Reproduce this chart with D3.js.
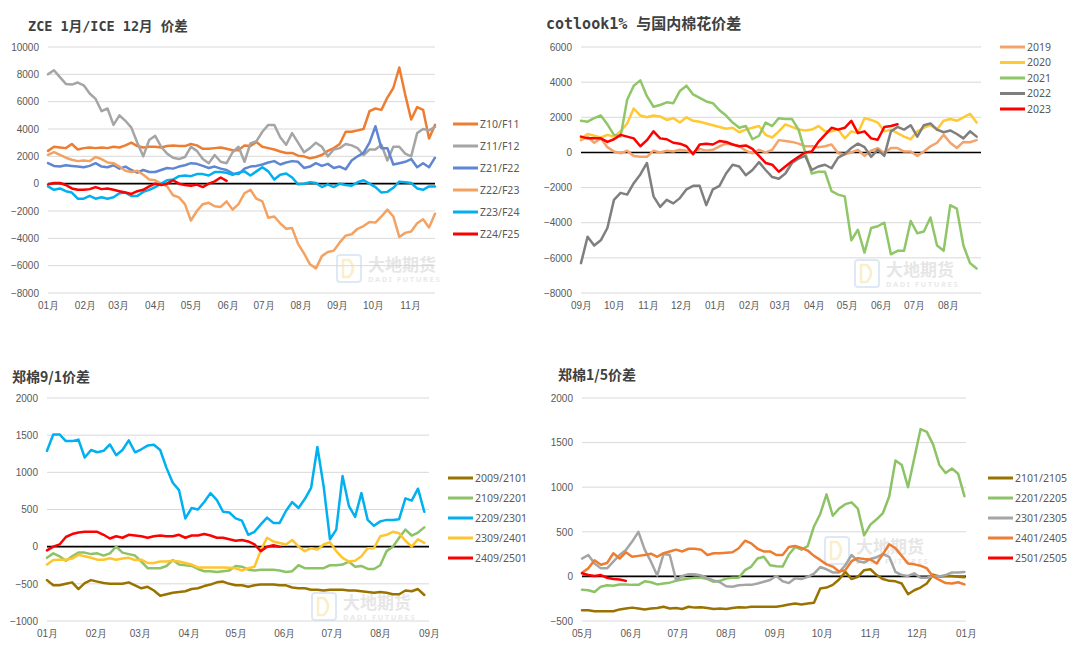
<!DOCTYPE html>
<html lang="zh">
<head>
<meta charset="UTF-8">
<title>棉花价差</title>
<script src="https://d3js.org/d3.v7.min.js"></script>
<style>
  body { margin: 0; background: #fff; }
  svg { display: block; font-family: "Noto Sans", "Noto Sans CJK SC", sans-serif; }
  .axis text { fill: #595959; font-size: 10px; }
  .axis path { display: none; }
  .grid { stroke: #d9d9d9; stroke-width: 1; }
  .zero { stroke: #000; stroke-width: 1.6; }
  .series { fill: none; stroke-width: 2.5; stroke-linejoin: round; stroke-linecap: round; }
  .legend text { fill: #595959; font-size: 10.5px; }
  .title { fill: #404040; font-weight: bold; }
</style>
</head>
<body>
<svg id="chart" width="1080" height="651"></svg>
<script>
// ---------- ZCE 1月/ICE 12月 价差 (every 5 days from 01-01) ----------
const zceNames = ["Z10/F11", "Z11/F12", "Z21/F22", "Z22/F23", "Z23/F24", "Z24/F25"];
const zceTicks = [-8000, -6000, -4000, -2000, 0, 2000, 4000, 6000, 8000, 10000];
const zceZ10F11 = [2400, 2700, 2650, 2600, 2900, 2500, 2600, 2650, 2600, 2650,
  2600, 2700, 2650, 2800, 3000, 2750, 2650, 2700, 2700, 2650,
  2750, 2800, 2750, 2750, 2900, 2800, 2550, 2550, 2600, 2650,
  2550, 2450, 2450, 2800, 2750, 3050, 2700, 2600, 2500, 2350,
  2250, 2250, 2050, 2000, 1850, 1950, 2100, 2400, 2600, 2900,
  3800, 3800, 3900, 4000, 5300, 5500, 5400, 6300, 7000, 8500,
  6500, 4700, 5600, 5400, 3300, 4300];
const zceZ11F12 = [8000, 8300, 7800, 7300, 7250, 7400, 7200, 6600, 6200, 5300,
  5500, 4300, 5000, 4600, 4100, 3000, 2000, 3200, 3500, 2700,
  2200, 1900, 1800, 1950, 2700, 2400, 1800, 1500, 2100, 1600,
  1500, 2300, 2700, 1600, 2950, 3100, 3800, 4300, 4300, 3400,
  2850, 3700, 3000, 2300, 2600, 3000, 2700, 2000, 2500, 2600,
  2900, 2800, 2600, 2100, 2500, 2500, 2850, 1700, 2700, 2700,
  2200, 2000, 3700, 4000, 3900, 4150];
const zceZ21F22 = [1500, 1300, 1250, 1350, 1300, 1250, 1200, 1300, 1500, 1250,
  1200, 1350, 1100, 1250, 1000, 800, 1000, 850, 850, 1000,
  1150, 1100, 1250, 1350, 1500, 1450, 1300, 1150, 1250, 1100,
  1000, 750, 700, 1100, 1250, 1300, 1400, 1550, 1650, 1400,
  1550, 1650, 1600, 1150, 1250, 1500, 1300, 1450, 1150, 1250,
  1050, 1700, 2000, 2250, 3000, 4200, 2600, 2600, 1400, 1500,
  1600, 1800, 1200, 1500, 1200, 1900];
const zceZ22F23 = [2100, 2300, 2100, 1900, 1750, 1650, 1700, 1650, 1950, 1800,
  1550, 1500, 1250, 950, 850, 950, 650, 300, 250, 0,
  -200, -850, -1000, -1500, -2700, -2000, -1500, -1400, -1650, -1700,
  -1300, -1900, -1500, -700, -450, -1100, -1300, -2500, -2400, -2900,
  -3300, -3250, -4400, -5100, -5900, -6200, -5300, -5000, -4900, -4300,
  -3800, -3700, -3300, -3100, -2800, -2850, -2400, -1900, -2400, -3900,
  -3600, -3500, -2900, -2600, -3200, -2200];
const zceZ23F24 = [-200, -450, -350, -550, -650, -1100, -1100, -900, -1100, -1000,
  -1100, -1000, -700, -650, -900, -900, -600, -450, -250, 0,
  250, 300, 550, 600, 550, 700, 700, 600, 850, 850,
  800, 650, 800, 900, 600, 900, 1200, 900, 300, 650,
  750, 450, -50, 0, 100, 50, -250, -50, -250, 0,
  -100, -150, 100, 250, 0, -250, -650, -600, -300, 150,
  100, 50, -350, -450, -200, -200];
const zceZ24F25 = [-50, 50, 50, -100, -350, -450, -450, -400, -250, -400,
  -350, -450, -550, -650, -750, -550, -450, -200, 0, -100,
  0, 250, 0, -100, -150, -70, -250, 0, 170, 450,
  200];

// ---------- cotlook1% 与国内棉花价差 (every 6 days from 09-01) ----------
const cotNames = ["2019", "2020", "2021", "2022", "2023"];
const cotTicks = [-8000, -6000, -4000, -2000, 0, 2000, 4000, 6000];
const cot2019 = [700, 900, 550, 800, 300, 50, -50, 100, -200, -250,
  -250, 100, 0, 100, 50, 150, 100, 0, 200, 100,
  150, 350, 500, 450, 350, 100, -50, 150, 0, 150,
  700, 650, 600, 500, 350, 350, 300, 350, 450, -50,
  -100, 0, 150, -200, 100, 250, -50, 250, 250, 50,
  50, -200, 50, 350, 550, 1000, 550, 250, 600, 580,
  700];
const cot2020 = [800, 1050, 950, 850, 1000, 900, 1200, 1650, 2500, 2100,
  2000, 2100, 2050, 1850, 1950, 1700, 2000, 1800, 1750, 1650,
  1550, 1450, 1350, 1400, 1150, 1300, 1400, 1500, 1000, 850,
  1200, 1600, 1450, 1300, 1250, 1300, 1500, 1200, 1200, 1300,
  800, 1200, 1100, 1950, 1850, 1700, 1200, 1300, 1100, 900,
  750, 1200, 1400, 1550, 1300, 1800, 1900, 1800, 2000, 2200,
  1700];
const cot2021 = [1800, 1750, 1950, 2100, 1600, 1000, 900, 3000, 3800, 4100,
  3200, 2600, 2700, 2850, 2800, 3500, 3800, 3300, 3100, 2900,
  2800, 2400, 2100, 1700, 1400, 1500, 750, 950, 1700, 1500,
  1950, 1900, 1900, 1300, 0, -1200, -1100, -1100, -2200, -2400,
  -2500, -5000, -4400, -5700, -4300, -4200, -4000, -5800, -5600, -5600,
  -3900, -4600, -4500, -3700, -5300, -5600, -3000, -3200, -5300, -6300,
  -6600];
const cot2022 = [-6300, -4800, -5300, -5000, -4300, -2700, -2300, -2400, -1750, -1250,
  -600, -2500, -3100, -2700, -2900, -2600, -2100, -1900, -1900, -3000,
  -2100, -1900, -1200, -700, -800, -1300, -1000, -550, -1000, -1400,
  -1500, -1200, -600, -350, -200, -1000, -800, -700, -900, -300,
  -100, 250, 500, 300, -250, 150, -200, 1200, 1450, 1300,
  1550, 900, 1550, 1650, 1300, 1150, 1250, 1050, 800, 1200,
  900];
const cot2023 = [900, 800, 800, 800, 600, 750, 1000, 900, 800, 350,
  700, 1200, 800, 750, 550, 500, 350, -100, 450, 500,
  450, 650, 600, 450, 350, 400, 200, -200, -600, -700,
  -1100, -800, -500, -250, 0, 50, 600, 1000, 1400, 1300,
  1400, 1800, 1100, 1200, 800, 720, 1450, 1500, 1600];

// ---------- 郑棉9/1价差 (every 4 days from 01-01) ----------
const sepNames = ["2009/2101", "2109/2201", "2209/2301", "2309/2401", "2409/2501"];
const sepTicks = [-1000, -500, 0, 500, 1000, 1500, 2000];
const sep2009 = [-450, -520, -520, -500, -480, -570, -490, -450, -470, -490,
  -500, -500, -500, -480, -520, -560, -540, -590, -660, -640,
  -620, -610, -600, -570, -560, -530, -510, -480, -470, -500,
  -520, -520, -540, -520, -510, -510, -510, -520, -520, -550,
  -560, -560, -580, -580, -590, -580, -580, -580, -590, -590,
  -600, -610, -620, -610, -620, -640, -640, -590, -600, -570,
  -650];
const sep2109 = [-150, -90, -130, -190, -130, -80, -80, -100, -90, -120,
  -90, 0, -80, -100, -120, -200, -290, -290, -290, -260,
  -180, -240, -250, -260, -300, -330, -330, -340, -330, -320,
  -260, -270, -310, -320, -310, -310, -310, -320, -340, -330,
  -250, -290, -290, -290, -290, -250, -250, -240, -200, -270,
  -260, -300, -300, -250, -60, 0, 120, 230, 150, 190,
  260];
const sep2209 = [1290, 1510, 1510, 1420, 1420, 1440, 1200, 1300, 1270, 1290,
  1375, 1230, 1300, 1430, 1270, 1310, 1360, 1370, 1300, 1060,
  860, 760, 380, 520, 500, 600, 720, 630, 470, 460,
  380, 350, 160, 200, 300, 390, 320, 320, 480, 600,
  520, 640, 790, 1340, 810, 100, 230, 950, 550, 400,
  720, 360, 280, 340, 360, 360, 370, 650, 620, 780,
  470];
const sep2309 = [-240, -180, -175, -175, -160, -110, -130, -150, -175, -175,
  -155, -175, -160, -150, -180, -175, -220, -220, -200, -200,
  -190, -200, -220, -240, -280, -280, -280, -280, -280, -285,
  -290, -320, -290, -270, -50, 120, 70, 50, 30, 90,
  0, -60, -20, -40, 30, 60, -60, -150, -200, -190,
  -130, -20, -20, 140, 160, 200, 180, 80, 0, 100,
  50];
const sep2409 = [-50, 0, 30, 130, 170, 190, 200, 200, 200, 160,
  110, 140, 120, 160, 150, 140, 120, 140, 150, 140,
  140, 160, 120, 150, 150, 170, 150, 120, 120, 100,
  80, 90, 70, 30, -60, 0, 20, 0];

// ---------- 郑棉1/5价差 (every 4 days from 05-01) ----------
const janNames = ["2101/2105", "2201/2205", "2301/2305", "2401/2405", "2501/2505"];
const janTicks = [-500, 0, 500, 1000, 1500, 2000];
const jan2101 = [-380, -380, -390, -390, -390, -390, -370, -360, -350, -360,
  -370, -360, -355, -340, -360, -355, -365, -340, -350, -345,
  -355, -365, -360, -365, -355, -345, -350, -340, -340, -340,
  -340, -340, -330, -315, -305, -315, -305, -295, -135, -125,
  -95, -35, 50, -30, -5, 70, 80, 15, -30, -50,
  -55, -80, -200, -155, -125, -80, 20, 0, 5, 5,
  -5, -10];
const jan2201 = [-150, -155, -175, -115, -100, -105, -90, -90, -95, -95,
  -55, -65, -90, -80, -70, -50, -35, -25, -15, -15,
  -30, -60, -50, -25, -15, -15, 70, 110, 200, 220,
  125, 115, 110, 245, 330, 300, 340, 560, 700, 920,
  680, 760, 810, 830, 760, 460, 580, 640, 710, 895,
  1300, 1250, 1000, 1325, 1650, 1620, 1480, 1250, 1160, 1210,
  1150, 900];
const jan2301 = [200, 240, 145, 90, 90, 165, 240, 295, 390, 500,
  300, 165, 10, 250, 240, -40, 5, 25, 25, 10,
  -20, -45, -65, -110, -115, -100, -95, -95, -80, -60,
  -40, 5, -55, -75, -20, -30, -5, 30, 105, 80,
  45, 45, 125, 240, 170, 155, 195, 215, 250, 220,
  50, 15, 5, 35, -15, -15, 5, 0, 15, 45,
  45, 50];
const jan2401 = [40, 90, 180, 130, 150, 260, 200, 270, 220, 230,
  240, 255, 220, 260, 280, 300, 280, 310, 310, 300,
  240, 260, 260, 265, 270, 315, 400, 370, 310, 280,
  280, 240, 240, 330, 340, 320, 290, 230, 185, 135,
  110, 55, 70, 170, 205, 195, 190, 145, 250, 360,
  315, 230, 145, 135, 120, 90, 0, -40, -75, -80,
  -65, -90];
const jan2501 = [35, 15, 5, 15, -15, -30, -35, -50];

const panels = [
  {
    title: "ZCE 1月/ICE 12月 价差", titleX: 28, titleY: 31, titleSize: 13.5, mono: true,
    start: new Date(2023, 0, 1), step: 5, end: new Date(2023, 10, 22),
    left: 48, right: 435, top: 47, bottom: 293, yDomain: [-8000, 10000], yTicks: zceTicks,
    legendX: 453, legendY: 124, legendGap: 22,
    mark: [337, 255],
    series: [
      { name: zceNames[0], color: "#ED7D31", values: zceZ10F11 },
      { name: zceNames[1], color: "#A5A5A5", values: zceZ11F12 },
      { name: zceNames[2], color: "#5F86D3", values: zceZ21F22 },
      { name: zceNames[3], color: "#F3A262", values: zceZ22F23 },
      { name: zceNames[4], color: "#00B0F0", values: zceZ23F24 },
      { name: zceNames[5], color: "#FF0000", values: zceZ24F25 }
    ]
  },
  {
    title: "cotlook1% 与国内棉花价差", titleX: 546, titleY: 29, titleSize: 15, mono: true,
    start: new Date(2022, 8, 1), step: 6, end: new Date(2023, 7, 31),
    left: 581, right: 981, top: 47, bottom: 293, yDomain: [-8000, 6000], yTicks: cotTicks,
    legendX: 1000, legendY: 47, legendGap: 15.5,
    mark: [855, 260],
    series: [
      { name: cotNames[0], color: "#F4A46A", values: cot2019 },
      { name: cotNames[1], color: "#FFC933", values: cot2020 },
      { name: cotNames[2], color: "#8FC667", values: cot2021 },
      { name: cotNames[3], color: "#7F7F7F", values: cot2022 },
      { name: cotNames[4], color: "#FF0000", values: cot2023 }
    ]
  },
  {
    title: "郑棉9/1价差", titleX: 12, titleY: 382, titleSize: 14, mono: false,
    start: new Date(2023, 0, 1), step: 4, end: new Date(2023, 8, 1),
    left: 47, right: 429, top: 398, bottom: 621, yDomain: [-1000, 2000], yTicks: sepTicks,
    legendX: 448, legendY: 478, legendGap: 20,
    mark: [312, 593],
    series: [
      { name: sepNames[0], color: "#997300", values: sep2009 },
      { name: sepNames[1], color: "#8DC366", values: sep2109 },
      { name: sepNames[2], color: "#00B0F0", values: sep2209 },
      { name: sepNames[3], color: "#FFC52E", values: sep2309 },
      { name: sepNames[4], color: "#FF0000", values: sep2409 }
    ]
  },
  {
    title: "郑棉1/5价差", titleX: 558, titleY: 380, titleSize: 14, mono: false,
    start: new Date(2023, 4, 1), step: 4, end: new Date(2024, 0, 1),
    left: 582, right: 966, top: 398, bottom: 621, yDomain: [-500, 2000], yTicks: janTicks,
    legendX: 988, legendY: 478, legendGap: 20,
    mark: [825, 537],
    series: [
      { name: janNames[0], color: "#997300", values: jan2101 },
      { name: janNames[1], color: "#8DC366", values: jan2201 },
      { name: janNames[2], color: "#A5A5A5", values: jan2301 },
      { name: janNames[3], color: "#ED7D31", values: jan2401 },
      { name: janNames[4], color: "#FF0000", values: jan2501 }
    ]
  }
];

const svg = d3.select("#chart");
const monthFmt = d3.timeFormat("%m月");

function watermark(g, x, y) {
  const w = g.append("g").attr("opacity", 0.55);
  w.append("rect").attr("x", x).attr("y", y).attr("width", 24).attr("height", 27)
    .attr("rx", 3).attr("fill", "none").attr("stroke", "#c5d8ee").attr("stroke-width", 2);
  w.append("path")
    .attr("d", `M${x + 6},${y + 5} L${x + 12},${y + 5} Q${x + 20},${y + 13} ${x + 12},${y + 22} L${x + 6},${y + 22} Z`)
    .attr("fill", "none").attr("stroke", "#f3e2a6").attr("stroke-width", 2.5);
  w.append("text").attr("x", x + 31).attr("y", y + 16)
    .attr("font-size", 17).attr("font-weight", "bold").attr("fill", "#d2d2d2")
    .attr("font-family", "Noto Sans CJK SC").text("大地期货");
  w.append("text").attr("x", x + 31).attr("y", y + 27)
    .attr("font-size", 7.5).attr("font-weight", "bold").attr("letter-spacing", 1.6)
    .attr("fill", "#d8d8d8").text("DADI FUTURES");
}

function drawPanel(p) {
  const g = svg.append("g");
  const x = d3.scaleTime().domain([p.start, p.end]).range([p.left, p.right]);
  const y = d3.scaleLinear().domain(p.yDomain).range([p.bottom, p.top]);

  g.append("text").attr("class", "title")
    .attr("x", p.titleX).attr("y", p.titleY)
    .attr("font-size", p.titleSize)
    .attr("font-family", p.mono ? "'DejaVu Sans Mono', 'Noto Sans CJK SC', monospace" : "'Noto Sans CJK SC', sans-serif")
    .text(p.title);

  // gridlines
  g.selectAll("line.grid").data(p.yTicks).join("line")
    .attr("class", "grid")
    .attr("x1", p.left).attr("x2", p.right)
    .attr("y1", d => y(d)).attr("y2", d => y(d));

  g.append("g").attr("class", "axis")
    .attr("transform", `translate(${p.left},0)`)
    .call(d3.axisLeft(y).tickValues(p.yTicks).tickSize(0).tickPadding(9).tickFormat(d3.format("d")));

  g.append("g").attr("class", "axis")
    .attr("transform", `translate(0,${p.bottom})`)
    .call(d3.axisBottom(x).ticks(d3.timeMonth.every(1)).tickSize(0).tickPadding(9).tickFormat(monthFmt));

  watermark(g, p.mark[0], p.mark[1]);

  g.append("line").attr("class", "zero")
    .attr("x1", p.left).attr("x2", p.right)
    .attr("y1", y(0)).attr("y2", y(0));

  const line = d3.line()
    .x((d, i) => x(d3.timeDay.offset(p.start, i * p.step)))
    .y(d => y(d));

  g.selectAll("path.series").data(p.series).join("path")
    .attr("class", "series")
    .attr("stroke", s => s.color)
    .attr("d", s => line(s.values));

  const lg = g.append("g").attr("class", "legend");
  p.series.forEach((s, i) => {
    const ly = p.legendY + i * p.legendGap;
    lg.append("line").attr("x1", p.legendX).attr("x2", p.legendX + 25)
      .attr("y1", ly).attr("y2", ly)
      .attr("stroke", s.color).attr("stroke-width", 3);
    lg.append("text").attr("x", p.legendX + 27).attr("y", ly).attr("dy", "0.35em").text(s.name);
  });
}

panels.forEach(drawPanel);
</script>
</body>
</html>
